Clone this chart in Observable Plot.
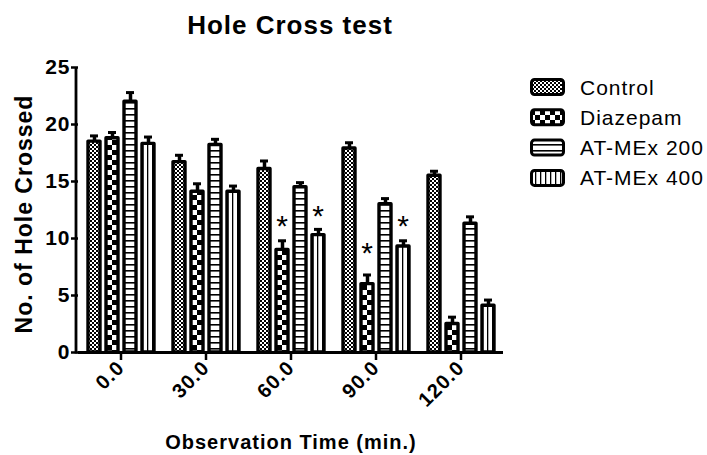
<!DOCTYPE html>
<html><head><meta charset="utf-8">
<script src="https://cdn.jsdelivr.net/npm/d3@7"></script>
<script src="https://cdn.jsdelivr.net/npm/@observablehq/plot@0.6"></script>
<style>
body{margin:0;background:#fff;}
#wrap{position:relative;width:707px;height:455px;font-family:"Liberation Sans",Arial,sans-serif;}
#wrap svg{position:absolute;left:0;top:0;}
#wrap svg text{letter-spacing:1px;}
</style></head><body>
<div id="wrap"></div>
<script>
const times = ["0.0","30.0","60.0","90.0","120.0"];
const series = ["Control","Diazepam","AT-MEx 200","AT-MEx 400"];
const controlMean  = [18.5,16.7,16.1,17.9,15.5];
const diazepamMean = [18.8,14.1,9.0,6.0,2.5];
const atmex200Mean = [22.0,18.2,14.5,13.0,11.3];
const atmex400Mean = [18.3,14.1,10.3,9.3,4.1];
const controlErr  = [0.5,0.6,0.7,0.5,0.4];
const diazepamErr = [0.5,0.7,0.8,0.8,0.6];
const atmex200Err = [0.8,0.5,0.4,0.5,0.6];
const atmex400Err = [0.6,0.5,0.5,0.5,0.5];
const yTicks = [0,5,10,15,20,25];
const starTime   = ["60.0","60.0","90.0","90.0"];
const starSeries = ["Diazepam","AT-MEx 400","Diazepam","AT-MEx 400"];
const starY      = [11.8,12.6,9.4,11.8];

const means = [controlMean, diazepamMean, atmex200Mean, atmex400Mean];
const errs  = [controlErr, diazepamErr, atmex200Err, atmex400Err];
const data = series.flatMap((s,i)=>times.map((t,j)=>({time:t, series:s, value:means[i][j], err:errs[i][j]})));
const stars = starTime.map((t,k)=>({time:t, series:starSeries[k], y:starY[k]}));
const patternIds = ["pc","pd","p2","p4"];
const FONT = '"Liberation Sans", Arial, sans-serif';

const wrap = document.getElementById("wrap");
wrap.insertAdjacentHTML("beforeend", `<svg width="0" height="0" style="position:absolute"><defs>
<pattern id="pc" patternUnits="userSpaceOnUse" width="4" height="4"><rect width="4" height="4" fill="#fff"/><rect width="2" height="2" fill="#000"/><rect x="2" y="2" width="2" height="2" fill="#000"/></pattern>
<pattern id="pd" patternUnits="userSpaceOnUse" width="10" height="10"><rect width="10" height="10" fill="#fff"/><rect width="5" height="5" fill="#000"/><rect x="5" y="5" width="5" height="5" fill="#000"/></pattern>
<pattern id="p2" patternUnits="userSpaceOnUse" width="6" height="6"><rect width="6" height="6" fill="#fff"/><rect width="6" height="1.6" fill="#000"/></pattern>
<pattern id="p4" patternUnits="userSpaceOnUse" width="5" height="5"><rect width="5" height="5" fill="#fff"/><rect width="1.3" height="5" fill="#000"/></pattern>
</defs></svg>`);

const plot = Plot.plot({
  width: 707, height: 455,
  marginLeft: 76, marginRight: 203, marginTop: 67, marginBottom: 103,
  style: {fontFamily: FONT, background: "transparent", color: "#000"},
  fx: {domain: times, padding: 0, label: null},
  x: {domain: series, paddingInner: 0.351, paddingOuter: 0.489, axis: null},
  y: {domain: [0, 25], label: null},
  color: {domain: series, range: patternIds.map(id => `url(#${id})`)},
  marks: [
    Plot.barY(data, {fx: "time", x: "series", y: "value", fill: "series", stroke: "#000", strokeWidth: 3.4, strokeLinejoin: "round"}),
    Plot.ruleX(data, {fx: "time", x: "series", y1: "value", y2: d => d.value + d.err, stroke: "#000", strokeWidth: 3.5}),
    Plot.tickY(data, {fx: "time", x: "series", y: d => d.value + d.err, stroke: "#000", strokeWidth: 3, insetLeft: 2, insetRight: 2}),
    Plot.text(stars, {fx: "time", x: "series", y: "y", text: () => "*", fontSize: 30, dy: 8, fill: "#000"}),
    Plot.ruleY([0], {stroke: "#000", strokeWidth: 3}),
    Plot.axisY({ticks: yTicks, tickSize: 7, tickPadding: 1, fontSize: 21, fontWeight: "bold", strokeWidth: 2.5, label: null}),
    Plot.axisFx({anchor: "bottom", tickSize: 8, tickPadding: 4, tickRotate: -45, fontSize: 20, fontWeight: "bold", strokeWidth: 2.5, label: null})
  ]
});
wrap.appendChild(plot);

// y-axis line, placed from the y scale
const ys = plot.scale("y");
const yTop = ys.apply(25), yBot = ys.apply(0);
d3.select(plot).append("line").attr("x1", 76).attr("x2", 76).attr("y1", yTop).attr("y2", yBot + 1.5)
  .attr("stroke", "#000").attr("stroke-width", 2.8);

const ov = d3.create("svg").attr("width", 707).attr("height", 455)
  .style("font-family", FONT).style("pointer-events", "none");
ov.append("text").attr("x", 290).attr("y", 34).attr("text-anchor", "middle")
  .attr("font-weight", "bold").attr("font-size", 26).attr("letter-spacing", 0.8).text("Hole Cross test");
ov.append("text").attr("transform", "translate(32,214) rotate(-90)").attr("text-anchor", "middle")
  .attr("font-weight", "bold").attr("font-size", 23).attr("letter-spacing", 0.6).text("No. of Hole Crossed");
ov.append("text").attr("x", 291).attr("y", 449).attr("text-anchor", "middle")
  .attr("font-weight", "bold").attr("font-size", 20).attr("letter-spacing", 1.5).text("Observation Time (min.)");
series.forEach((s, i) => {
  const cy = 87 + i * 30.3;
  ov.append("rect").attr("x", 531.5).attr("y", cy - 7.5).attr("width", 32).attr("height", 15).attr("rx", 3)
    .attr("fill", `url(#${patternIds[i]})`).attr("stroke", "#000").attr("stroke-width", 3);
  ov.append("text").attr("x", 580).attr("y", cy + 7.5).attr("font-size", 21).attr("letter-spacing", 0.8).text(s);
});
wrap.appendChild(ov.node());
</script>
</body></html>
